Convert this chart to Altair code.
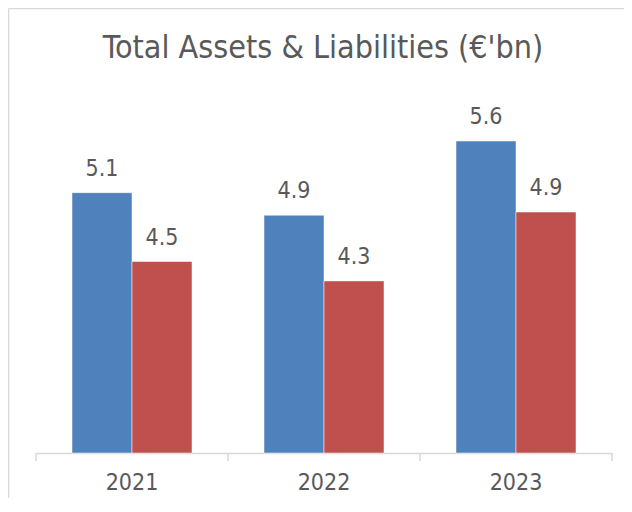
import altair as alt
import pandas as pd

years = ["2021", "2022", "2023"]
series = ["Assets", "Liabilities"]
assets = [5.12, 4.91, 5.60]
liabilities = [4.48, 4.30, 4.94]
colors = ["#4F81BD", "#C0504D"]
title_text = "Total Assets & Liabilities (€'bn)"
y_min, y_max = 2.7, 6.0

rows = []
for i, yr in enumerate(years):
    rows.append({"year": yr, "series": series[0], "value": assets[i]})
    rows.append({"year": yr, "series": series[1], "value": liabilities[i]})
df = pd.DataFrame(rows)
df_years = pd.DataFrame({"year": years})
df_last = pd.DataFrame({"year": years[-1:]})

FONT = "Liberation Sans Narrow, DejaVu Sans Condensed, sans-serif"
TXT = "#595959"
GRID = "#D9D9D9"
W, H = 576, 355

x_scale = alt.Scale(domain=years, paddingInner=0.375, paddingOuter=0.1875)
x_enc = alt.X(
    "year:N",
    sort=years,
    scale=x_scale,
    axis=alt.Axis(
        title=None,
        labelAngle=0,
        labelAlign="center",
        ticks=False,
        domainColor=GRID,
        domainWidth=1.5,
        labelFontSize=23,
        labelFont=FONT,
        labelColor=TXT,
        labelBaseline="alphabetic",
        labelPadding=36,
    ),
)
xo_enc = alt.XOffset("series:N", sort=series, scale=alt.Scale(paddingInner=0, paddingOuter=0))
y_enc = alt.Y("value:Q", scale=alt.Scale(domain=[y_min, y_max], zero=False), axis=None)

base = alt.Chart(df).encode(x=x_enc, xOffset=xo_enc, y=y_enc)

bars = base.mark_bar(stroke="white", strokeWidth=0.5).encode(
    y2=alt.datum(y_min),
    color=alt.Color("series:N", scale=alt.Scale(domain=series, range=colors), legend=None),
)
labels = base.mark_text(
    dy=-17, baseline="alphabetic", fontSize=23, font=FONT, color=TXT
).encode(text=alt.Text("value:Q", format=".1f"))

# category boundary ticks (half a step to the left of each band centre, plus the right end)
ticks_left = alt.Chart(df_years).mark_rule(color=GRID, strokeWidth=1.5, xOffset=-96).encode(
    x=alt.X("year:N", sort=years, scale=x_scale), y=alt.value(H), y2=alt.value(H + 8)
)
ticks_right = alt.Chart(df_last).mark_rule(color=GRID, strokeWidth=1.5, xOffset=96).encode(
    x=alt.X("year:N", sort=years, scale=x_scale), y=alt.value(H), y2=alt.value(H + 8)
)

single = alt.Data(values=[{"k": 1}])
top_border = alt.Chart(single).mark_rule(color=GRID, strokeWidth=1.5).encode(
    x=alt.value(-27.5), x2=alt.value(600), y=alt.value(-89.5)
)
left_border = alt.Chart(single).mark_rule(color=GRID, strokeWidth=1.5).encode(
    x=alt.value(-27.5), y=alt.value(-89.5), y2=alt.value(420)
)
title = alt.Chart(single).mark_text(
    fontSize=32, font=FONT, color=TXT, baseline="alphabetic", align="center"
).encode(x=alt.value(W / 2 - 1), y=alt.value(-40), text=alt.value(title_text))

chart = alt.layer(
    top_border, left_border, ticks_left, ticks_right, bars, labels, title
).properties(
    width=W,
    height=H,
    autosize=alt.AutoSizeParams(type="none"),
    padding={"left": 28, "top": 90, "right": 12, "bottom": 45},
).configure_view(stroke=None)

chart.save("out.html", embed_options={"renderer": "svg", "actions": False})
